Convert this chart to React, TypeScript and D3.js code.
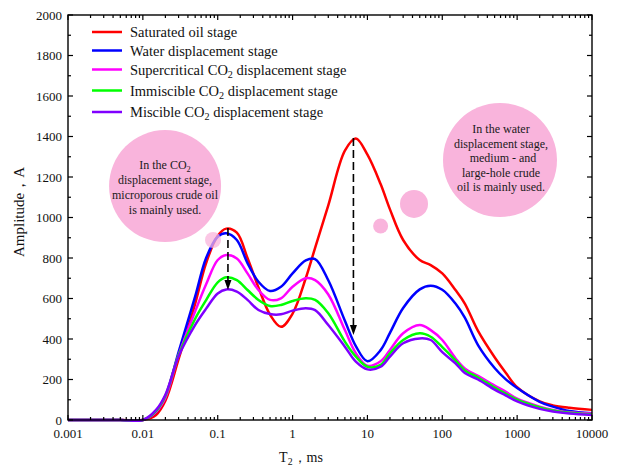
import * as d3 from 'd3';

// T2 relaxation grid (ms) and amplitude readings for each stage
const t2 = [0.001, 0.005, 0.01, 0.015, 0.02, 0.03, 0.05, 0.07, 0.1, 0.13, 0.18, 0.25, 0.35, 0.5, 0.7, 1, 1.5, 2, 3, 5, 7, 10, 15, 20, 30, 50, 70, 100, 150, 200, 300, 500, 700, 1000, 2000, 3000, 5000, 10000];

const saturated = [0, 0, 0, 25, 95, 300, 575, 775, 910, 945, 925, 800, 655, 520, 460, 525, 700, 850, 1060, 1330, 1390, 1310, 1165, 1040, 889, 790, 765, 724, 642, 575, 440, 310, 235, 162, 92, 72, 60, 50];
const water = [0, 0, 0, 40, 115, 335, 610, 800, 905, 922, 889, 775, 683, 637, 658, 724, 788, 795, 690, 490, 365, 290, 345, 430, 553, 645, 663, 643, 575, 505, 370, 257, 202, 158, 90, 66, 44, 33];
const supercritical = [0, 0, 0, 40, 110, 320, 537, 670, 790, 815, 798, 724, 642, 593, 601, 658, 700, 691, 620, 444, 330, 268, 290, 346, 428, 469, 444, 395, 305, 255, 218, 170, 140, 105, 66, 50, 38, 32];
const immiscible = [0, 0, 0, 45, 120, 320, 500, 592, 680, 705, 691, 642, 593, 563, 568, 588, 601, 593, 527, 387, 313, 263, 272, 329, 395, 428, 411, 360, 295, 245, 210, 160, 130, 100, 62, 47, 36, 28];
const miscible = [0, 0, 0, 50, 125, 315, 470, 550, 625, 645, 634, 593, 543, 523, 522, 540, 552, 543, 469, 362, 288, 250, 263, 313, 379, 403, 395, 335, 280, 232, 200, 150, 122, 92, 55, 42, 32, 25];

const seriesValues = [saturated, water, supercritical, immiscible, miscible];
const seriesColors = ['#ff0000', '#0000ff', '#ff00ff', '#00ff00', '#8000ff'];

const xTicks = [0.001, 0.01, 0.1, 1, 10, 100, 1000, 10000];
const xTickLabels = ['0.001', '0.01', '0.1', '1', '10', '100', '1000', '10000'];

// dashed arrows: T2 position, from amplitude, to amplitude
const arrowT2 = [0.137, 6.5];
const arrowFrom = [948, 1393];
const arrowTo = [642, 420];

// pink bubbles: T2 / amplitude centres
const bubbleT2 = [0.0198, 0.0865, 590, 41.9, 15];
const bubbleAmp = [1155, 889, 1284, 1067, 958];
const bubbleR = [56, 8, 57, 14, 7.5];

const W = 622;
const H = 470;
const margin = { top: 15, right: 30, bottom: 50, left: 68 };
const serif = "'Liberation Serif', 'Times New Roman', 'DejaVu Serif', serif";
const pink = '#f9b4dc';

// text with a subscript: before, sub, optional after
function SubText({ before, sub, after }: { before: string; sub: string; after?: string }) {
  return (
    <>
      <tspan>{before}</tspan>
      <tspan dy={3} fontSize="0.7em">{sub}</tspan>
      {after ? <tspan dy={-3}>{after}</tspan> : null}
    </>
  );
}

export default function App() {
  const x = d3.scaleLog().domain([0.001, 10000]).range([margin.left, W - margin.right]);
  const y = d3.scaleLinear().domain([0, 2000]).range([H - margin.bottom, margin.top]);
  const x0 = margin.left, x1 = W - margin.right, y0 = H - margin.bottom, y1 = margin.top;

  const line = d3
    .line<number>()
    .x((_, i) => x(t2[i]))
    .y((d) => Math.min(y(d), y0))
    .curve(d3.curveCatmullRom.alpha(0.5));

  const xMinor: number[] = [];
  for (let e = -3; e < 4; e++) for (let k = 2; k <= 9; k++) xMinor.push(k * Math.pow(10, e));
  const yMajor = y.ticks(10);
  const yMinor = d3.range(100, 2000, 200);

  const legendRows = [32, 50.5, 69.5, 90.5, 112];

  return (
    <svg width={W} height={H} fontFamily={serif} style={{ position: 'absolute', left: 0, top: 0, background: '#fff' }}>
      {/* bubbles under the curves */}
      {[0, 2, 3, 4].map((i) => (
        <circle key={i} cx={x(bubbleT2[i])} cy={y(bubbleAmp[i])} r={bubbleR[i]} fill={pink} />
      ))}

      <g fill="#1a1a1a" fontSize={12} textAnchor="middle">
        <text x={165} y={169}><SubText before="In the CO" sub="2" /></text>
        <text x={165} y={184}>displacement stage,</text>
        <text x={165} y={199}>microporous crude oil</text>
        <text x={165} y={213.5}>is mainly used.</text>

        <text x={501} y={133}>In the water</text>
        <text x={501} y={147.5}>displacement stage,</text>
        <text x={503} y={162}>medium - and</text>
        <text x={501} y={176.5}>large-hole crude</text>
        <text x={501} y={191}>oil is mainly used.</text>
      </g>

      {seriesValues.map((vals, i) => (
        <path key={i} d={line(vals) || ''} fill="none" stroke={seriesColors[i]} strokeWidth={2.5} />
      ))}

      <circle cx={x(bubbleT2[1])} cy={y(bubbleAmp[1])} r={bubbleR[1]} fill={pink} opacity={0.75} />

      {arrowT2.map((t, i) => {
        const ax = x(t);
        const tip = y(arrowTo[i]);
        return (
          <g key={i}>
            <line x1={ax} x2={ax} y1={y(arrowFrom[i])} y2={tip - 9} stroke="#000" strokeWidth={1.6} strokeDasharray="8,4" />
            <path d={`M${ax - 3.5},${tip - 10}L${ax + 3.5},${tip - 10}L${ax},${tip}Z`} fill="#000" />
          </g>
        );
      })}

      {/* frame and ticks */}
      <rect x={x0} y={y1} width={x1 - x0} height={y0 - y1} fill="none" stroke="#000" strokeWidth={1.4} />
      <g stroke="#000" strokeWidth={1.2}>
        {xTicks.map((t) => (
          <g key={t}>
            <line x1={x(t)} x2={x(t)} y1={y0} y2={y0 - 5} />
            <line x1={x(t)} x2={x(t)} y1={y1} y2={y1 + 5} />
          </g>
        ))}
        {xMinor.map((t) => (
          <g key={t}>
            <line x1={x(t)} x2={x(t)} y1={y0} y2={y0 - 3} />
            <line x1={x(t)} x2={x(t)} y1={y1} y2={y1 + 3} />
          </g>
        ))}
        {yMajor.map((v) => (
          <g key={v}>
            <line x1={x0} x2={x0 + 5} y1={y(v)} y2={y(v)} />
            <line x1={x1} x2={x1 - 5} y1={y(v)} y2={y(v)} />
          </g>
        ))}
        {yMinor.map((v) => (
          <g key={v}>
            <line x1={x0} x2={x0 + 3} y1={y(v)} y2={y(v)} />
            <line x1={x1} x2={x1 - 3} y1={y(v)} y2={y(v)} />
          </g>
        ))}
      </g>

      <g fontSize={13} fill="#111">
        {xTicks.map((t, i) => (
          <text key={t} x={x(t)} y={438} textAnchor="middle">{xTickLabels[i]}</text>
        ))}
        {yMajor.map((v) => (
          <text key={v} x={x0 - 6} y={y(v) + 4.5} textAnchor="end">{v}</text>
        ))}
      </g>

      <text x={301} y={462} fontSize={14} textAnchor="middle" fill="#111">
        <SubText before="T" sub="2" after="，ms" />
      </text>
      <text transform="translate(24,212) rotate(-90)" fontSize={15} textAnchor="middle" fill="#111">
        Amplitude，A
      </text>

      {/* legend */}
      <g fontSize={14.5} fill="#111">
        {legendRows.map((ry, i) => (
          <line key={i} x1={92} x2={122} y1={ry} y2={ry} stroke={seriesColors[i]} strokeWidth={2.5} />
        ))}
        <text x={130} y={legendRows[0] + 5}>Saturated oil stage</text>
        <text x={130} y={legendRows[1] + 5}>Water displacement stage</text>
        <text x={130} y={legendRows[2] + 5}><SubText before="Supercritical CO" sub="2" after=" displacement stage" /></text>
        <text x={130} y={legendRows[3] + 5}><SubText before="Immiscible CO" sub="2" after=" displacement stage" /></text>
        <text x={130} y={legendRows[4] + 5}><SubText before="Miscible CO" sub="2" after=" displacement stage" /></text>
      </g>
    </svg>
  );
}
